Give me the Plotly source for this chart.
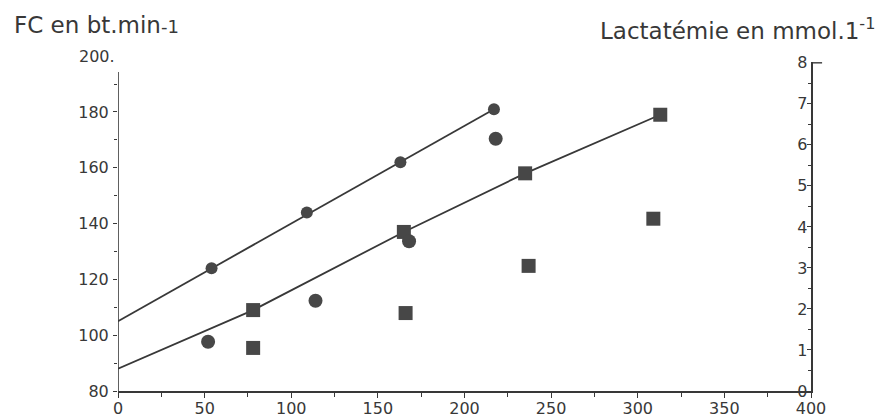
import plotly.graph_objects as go

# ---- data ----
# group 1 (circles): heart rate (left axis) vs power
fc_circ_x = [54, 109, 163, 217]
fc_circ_y = [124, 144, 162, 181]
# group 1 (circles): lactate (right axis) vs power
lac_circ_x = [52, 114, 168, 218]
lac_circ_y = [1.2, 2.2, 3.65, 6.15]
# group 2 (squares): heart rate (left axis)
fc_sq_x = [78, 165, 235, 313]
fc_sq_y = [109, 137, 158, 179]
# group 2 (squares): lactate (right axis)
lac_sq_x = [78, 166, 237, 309]
lac_sq_y = [1.05, 1.9, 3.05, 4.2]
# fitted lines
line_circ_x = [0, 217]
line_circ_y = [105, 181]
line_sq_x = [0, 78, 165, 235, 313]
line_sq_y = [88, 109, 137, 158, 179]

x_ticks = [0, 50, 100, 150, 200, 250, 300, 350, 400]
left_ticks = [80, 100, 120, 140, 160, 180]
right_ticks = [0, 1, 2, 3, 4, 5, 6, 7, 8]

LEFT_RANGE = [80, 197.9]
RIGHT_RANGE = [0, 8.02]

INK = "#383838"
MARK = "#474747"
FONT = "DejaVu Sans"

fig = go.Figure()
fig.add_trace(go.Scatter(x=line_circ_x, y=line_circ_y, mode="lines",
                         line=dict(color=INK, width=1.8), yaxis="y"))
fig.add_trace(go.Scatter(x=line_sq_x, y=line_sq_y, mode="lines",
                         line=dict(color=INK, width=1.8), yaxis="y"))
fig.add_trace(go.Scatter(x=fc_circ_x, y=fc_circ_y, mode="markers",
                         marker=dict(symbol="circle", size=12, color=MARK), yaxis="y"))
fig.add_trace(go.Scatter(x=fc_sq_x, y=fc_sq_y, mode="markers",
                         marker=dict(symbol="square", size=14, color=MARK), yaxis="y"))
fig.add_trace(go.Scatter(x=lac_circ_x, y=lac_circ_y, mode="markers",
                         marker=dict(symbol="circle", size=14, color=MARK), yaxis="y2"))
fig.add_trace(go.Scatter(x=lac_sq_x, y=lac_sq_y, mode="markers",
                         marker=dict(symbol="square", size=14, color=MARK), yaxis="y2"))

tickfont = dict(family=FONT, size=16, color=INK)

fig.update_layout(
    width=880, height=419,
    margin=dict(l=118, r=69, t=62, b=28),
    paper_bgcolor="white", plot_bgcolor="white",
    showlegend=False,
    xaxis=dict(range=[0, 400], tickvals=x_ticks, ticks="outside", ticklen=5,
               tickwidth=1.4, tickcolor=INK, showline=True, linecolor=INK,
               linewidth=1.6, showgrid=False, zeroline=False, tickfont=tickfont,
               automargin=False, ticklabeloverflow="allow", ticklabelstandoff=-3,
               minor=dict(dtick=25, ticks="outside", ticklen=4, tickcolor=INK, tickwidth=1.2)),
    yaxis=dict(range=LEFT_RANGE, tickvals=left_ticks, ticks="outside", ticklen=4,
               tickwidth=1.4, tickcolor=INK, showline=False, showgrid=False,
               zeroline=False, tickfont=tickfont, ticklabelstandoff=1,
               automargin=False, ticklabeloverflow="allow",
               minor=dict(dtick=10, ticks="outside", ticklen=3, tickcolor=INK, tickwidth=1.2)),
    yaxis2=dict(range=RIGHT_RANGE, tickvals=right_ticks, overlaying="y", side="right",
                ticks="inside", ticklen=4, tickwidth=1.4, tickcolor=INK,
                ticklabelposition="inside", showline=True, linecolor=INK, linewidth=1.6,
                showgrid=False, zeroline=False, tickfont=tickfont,
                automargin=False, ticklabeloverflow="allow",
                minor=dict(dtick=0.5, ticks="inside", ticklen=3, tickcolor=INK, tickwidth=1.2)),
)

# left axis line stops short of the top, the "200" label floats above it
fig.add_shape(type="line", xref="x", yref="y", x0=0, x1=0, y0=80, y1=194.3,
              line=dict(color=INK, width=1.6))
y200 = (200 - LEFT_RANGE[0]) / (LEFT_RANGE[1] - LEFT_RANGE[0])
fig.add_annotation(xref="paper", yref="paper", x=0, y=y200, text="200.", showarrow=False,
                   xanchor="right", yanchor="middle", xshift=-1, font=tickfont)
# the "8" tick crosses the right axis
fig.add_shape(type="line", xref="paper", yref="y2", x0=1, x1=1.016, y0=8, y1=8,
              line=dict(color=INK, width=1.4))

fig.add_annotation(xref="paper", yref="paper", x=-0.153, y=1.112,
                   text="FC en bt.min<span style='font-size:18px'>-1</span>",
                   showarrow=False, xanchor="left", yanchor="middle",
                   font=dict(family=FONT, size=23, color=INK))
fig.add_annotation(xref="paper", yref="paper", x=1.095, y=1.099,
                   text="Lactatémie en mmol.1<sup>-1</sup>",
                   showarrow=False, xanchor="right", yanchor="middle",
                   font=dict(family=FONT, size=23, color=INK))

fig.write_html("out.html", config={"displayModeBar": False},
               post_script="document.body.style.margin='0';")
